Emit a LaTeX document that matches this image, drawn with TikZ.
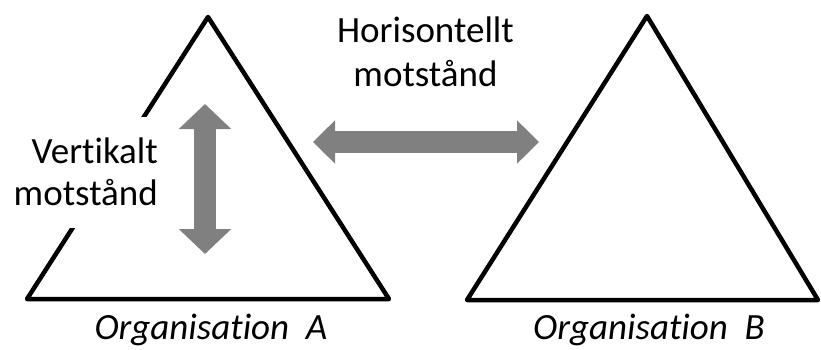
\documentclass[tikz,border=0pt]{standalone}
\usepackage{fontspec}
\setmainfont[Ligatures=NoCommon]{Carlito}
\usetikzlibrary{arrows.meta}
\tikzset{
  lbl/.style={font=\fontsize{37}{44}\selectfont, align=center, inner sep=0pt},
  org/.style={font=\fontsize{37}{44}\selectfont\itshape, inner sep=0pt, anchor=base},
  tri/.style={line width=4.5pt, line join=round},
  fat/.style={draw=gray, line width=22pt}
}
\begin{document}
\begin{tikzpicture}[x=1pt,y=1pt]
\useasboundingbox (0,0) rectangle (821,349);
\draw[tri] (208,332) -- (389,50) -- (27,50) -- cycle;
\draw[tri] (647,333) -- (818,49) -- (467,49) -- cycle;
\node[lbl, font=\fontsize{37}{42}\selectfont, fill=white, align=right, anchor=east, minimum height=111pt, inner xsep=3pt] (vert) at (161,177) {Vertikalt\\motstånd};
\node[lbl, anchor=base] (hori) at (425.5,263) {Horisontellt\\motstånd};
\coordinate (vtop) at (205,245);
\coordinate (vbot) at (205,95);
\coordinate (hleft) at (313,207);
\coordinate (hright) at (539,207);
\draw[fat, {Triangle[length=25pt,width=51pt]}-{Triangle[length=25pt,width=51pt]}] (vtop) -- (vbot);
\draw[fat, {Triangle[length=22pt,width=42pt]}-{Triangle[length=22pt,width=42pt]}] (hleft) -- (hright);
\node[org] (orgA) at (211,10) {Organisation\ \ A};
\node[org] (orgB) at (649,10) {Organisation\ \ B};
\end{tikzpicture}
\end{document}
